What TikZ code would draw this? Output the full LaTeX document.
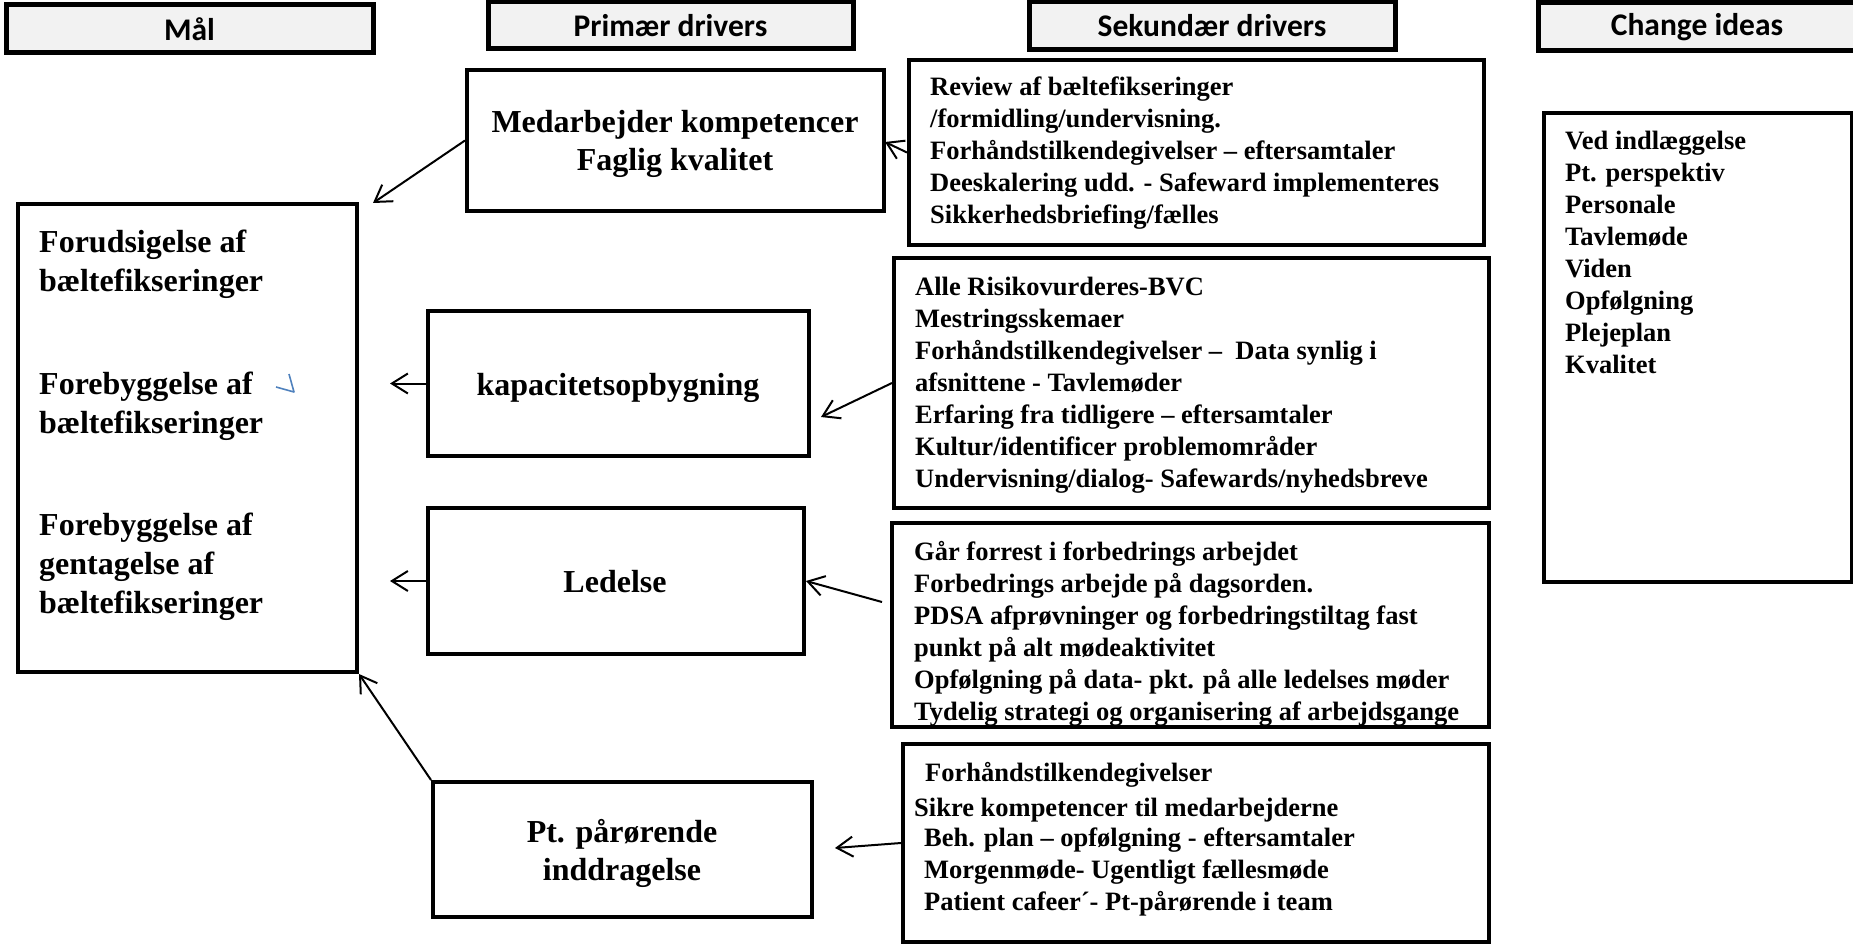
\documentclass[tikz,border=0pt]{standalone}
\usepackage{fontspec}
\setmainfont{Liberation Serif}
\newfontfamily\hdrfont{Carlito}
\usetikzlibrary{arrows.meta}
\definecolor{hdrgray}{HTML}{F2F2F2}
\definecolor{markblue}{HTML}{4F81BD}
\newcommand{\tlines}[1]{\begin{tabular}[t]{@{}l@{}}#1\end{tabular}}
\newcommand{\clines}[1]{\begin{tabular}[t]{@{}c@{}}#1\end{tabular}}
\begin{document}
\begin{tikzpicture}[x=1pt,y=-1pt,
  hdr/.style={draw, line width=5pt, fill=hdrgray, inner sep=0,
    font=\hdrfont\bfseries\fontsize{31.5}{38}\selectfont},
  box/.style={draw, line width=4pt, inner sep=0},
  prim/.style={inner sep=0, anchor=base, font=\bfseries\fontsize{32}{38}\selectfont},
  goaltxt/.style={inner sep=0, anchor=base west, font=\bfseries\fontsize{32}{39}\selectfont},
  sek/.style={inner sep=0, anchor=base west, font=\bfseries\fontsize{26.5}{32}\selectfont},
  arr/.style={line width=2pt, -{Straight Barb[length=16pt,width=20pt]}},
]
\useasboundingbox (0,0) rectangle (1853,944);

% headers
\node[hdr, minimum width=367pt, minimum height=48pt] (hmal) at (189.5,29) {Mål};
\node[hdr, minimum width=365pt, minimum height=47pt] (hprim) at (670.5,25.5) {Primær drivers};
\node[hdr, minimum width=366pt, minimum height=48pt] (hsek) at (1212,26) {Sekundær drivers};
\node[hdr, minimum width=318pt, minimum height=48pt] (hchg) at (1697,27) {Change ideas};

% texts
\node[goaltxt] (g1) at (39,253) {\tlines{Forudsigelse af\\bæltefikseringer}};
\node[goaltxt] (g2) at (39,394) {\tlines{Forebyggelse af\\bæltefikseringer}};
\node[goaltxt] (g3) at (39,535) {\tlines{Forebyggelse af\\gentagelse af\\bæltefikseringer}};

\node[prim] (medt) at (675,133) {\clines{Medarbejder kompetencer\\Faglig kvalitet}};
\node[prim] (kapt) at (618,395) {kapacitetsopbygning};
\node[prim] (ledt) at (615,592) {Ledelse};
\node[prim] (ptt) at (622,842) {\clines{Pt. pårørende\\inddragelse}};

\node[sek] (s1t) at (930,96) {\tlines{Review af bæltefikseringer\\/formidling/undervisning.\\Forhåndstilkendegivelser – eftersamtaler\\Deeskalering udd. - Safeward implementeres\\Sikkerhedsbriefing/fælles}};
\node[sek] (s2t) at (915,295) {\tlines{Alle Risikovurderes-BVC\\Mestringsskemaer\\Forhåndstilkendegivelser –\ \ Data synlig i\\afsnittene - Tavlemøder\\Erfaring fra tidligere – eftersamtaler\\Kultur/identificer problemområder\\Undervisning/dialog- Safewards/nyhedsbreve}};
\node[sek] (s3t) at (914,560) {\tlines{Går forrest i forbedrings arbejdet\\Forbedrings arbejde på dagsorden.\\PDSA afprøvninger og forbedringstiltag fast\\punkt på alt mødeaktivitet\\Opfølgning på data- pkt. på alle ledelses møder\\Tydelig strategi og organisering af arbejdsgange}};
\node[sek] (s4t) at (914,781) {\tlines{\hspace*{11pt}Forhåndstilkendegivelser\\[3pt]Sikre kompetencer til medarbejderne\\[-2pt]\hspace*{10pt}Beh. plan – opfølgning - eftersamtaler\\\hspace*{10pt}Morgenmøde- Ugentligt fællesmøde\\\hspace*{10pt}Patient cafeer´- Pt-pårørende i team}};
\node[sek] (chgt) at (1565,150) {\tlines{Ved indlæggelse\\Pt. perspektiv\\Personale\\Tavlemøde\\Viden\\Opfølgning\\Plejeplan\\Kvalitet}};

% boxes
\node[box, minimum width=339pt, minimum height=468pt] (goal) at (187.5,438) {};
\node[box, minimum width=417pt, minimum height=141pt] (med) at (675.5,140.5) {};
\node[box, minimum width=575pt, minimum height=185pt] (sek1) at (1196.5,152.5) {};
\node[box, minimum width=381pt, minimum height=145pt] (kap) at (618.5,383.5) {};
\node[box, minimum width=595pt, minimum height=250pt] (sek2) at (1191.5,383) {};
\node[box, minimum width=376pt, minimum height=146pt] (led) at (616,581) {};
\node[box, minimum width=597pt, minimum height=204pt] (sek3) at (1190.5,625) {};
\node[box, minimum width=379pt, minimum height=135pt] (pt) at (622.5,849.5) {};
\node[box, minimum width=586pt, minimum height=198pt] (sek4) at (1196,843) {};
\node[box, minimum width=308pt, minimum height=469pt] (chg) at (1698,347.5) {};

% blue mark
\draw[markblue, line width=1.6pt, line join=round] (276,387) -- (294,392) -- (289,374);

% connectors
\coordinate (a1) at (373,203);
\coordinate (a2) at (885,142);
\coordinate (a4) at (821,417);
\coordinate (a6) at (882,602);
\coordinate (a8) at (835,848);
\draw[arr] (med.west) -- (a1);
\draw[arr] (sek1.west) -- (a2);
\draw[arr, shorten >=31pt] (kap.west) -- (kap.west -| goal.east);
\draw[arr] (sek2.west) -- (a4);
\draw[arr, shorten >=31pt] (led.west) -- (led.west -| goal.east);
\draw[arr] (a6) -- (led.east);
\draw[arr] (pt.north west) -- (goal.south east);
\draw[arr] (sek4.west) -- (a8);
\end{tikzpicture}
\end{document}
